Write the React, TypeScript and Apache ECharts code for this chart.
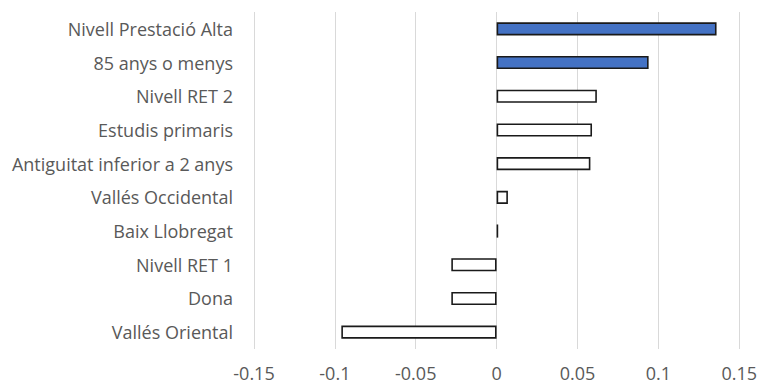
import React, { useEffect, useRef } from "react";
import * as echarts from "echarts";

// Categories listed bottom-to-top (ECharts category y-axis starts at the bottom)
const categories = [
  "Vallés Oriental",
  "Dona",
  "Nivell RET 1",
  "Baix Llobregat",
  "Vallés Occidental",
  "Antiguitat inferior a 2 anys",
  "Estudis primaris",
  "Nivell RET 2",
  "85 anys o menys",
  "Nivell Prestació Alta",
];

const values = [-0.096, -0.028, -0.028, 0.001, 0.007, 0.058, 0.059, 0.062, 0.094, 0.136];

// Which categories are highlighted in blue
const highlighted = [false, false, false, false, false, false, false, false, true, true];

const xTicks = [-0.15, -0.1, -0.05, 0, 0.05, 0.1, 0.15];

const FONT = "Open Sans";
const TEXT = "#595959";
const FONT_SIZE = 18;

export default function App() {
  const ref = useRef<HTMLDivElement>(null);

  useEffect(() => {
    if (!ref.current) return;
    const chart = echarts.init(ref.current, undefined, { renderer: "svg" });
    chart.setOption({
      animation: false,
      backgroundColor: "#ffffff",
      grid: { left: 254, right: 19, top: 12, bottom: 37 },
      xAxis: {
        type: "value",
        min: xTicks[0],
        max: xTicks[xTicks.length - 1],
        interval: 0.05,
        axisLine: { show: false },
        axisTick: { show: false },
        splitLine: { show: true, lineStyle: { color: "#d9d9d9", width: 1 } },
        axisLabel: {
          color: TEXT,
          fontFamily: FONT,
          fontSize: FONT_SIZE,
          lineHeight: 18,
          margin: 15,
          formatter: (v: number) => {
            const r = Math.round(v * 100) / 100;
            return r === 0 ? "0" : String(r);
          },
        },
      },
      yAxis: {
        type: "category",
        data: categories,
        axisLine: { show: false, onZero: false },
        axisTick: { show: false },
        splitLine: { show: false },
        axisLabel: {
          color: TEXT,
          fontFamily: FONT,
          fontSize: FONT_SIZE,
          margin: 21,
        },
      },
      series: [
        {
          type: "bar",
          data: values.map((v, i) => ({
            value: v,
            itemStyle: {
              color: highlighted[i] ? "#4472C4" : "#ffffff",
              borderColor: "#1a1a1a",
              borderWidth: 1.6,
            },
          })),
          barCategoryGap: "61%",
        },
      ],
    });
    return () => chart.dispose();
  }, []);

  return (
    <div
      ref={ref}
      style={{ position: "absolute", left: 0, top: 0, width: 760, height: 386 }}
    />
  );
}
